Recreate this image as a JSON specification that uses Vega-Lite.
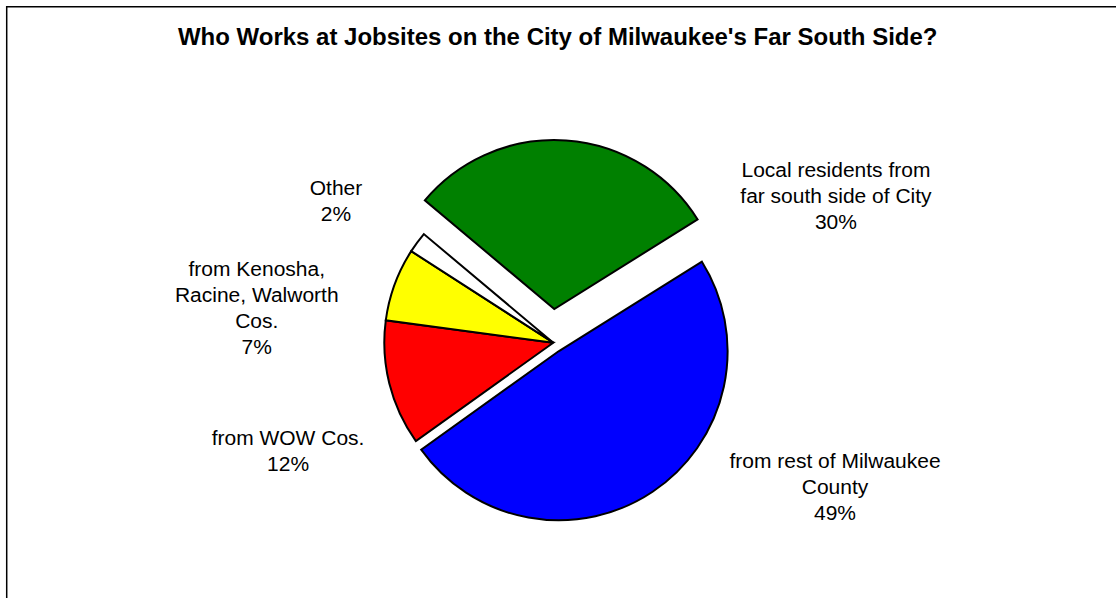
{
  "$schema": "https://vega.github.io/schema/vega-lite/v6.json",
  "autosize": {"type": "none"},
  "width": 1130,
  "height": 700,
  "padding": {"left": 6.7, "top": 6.7, "right": 0, "bottom": 0},
  "background": "#ffffff",
  "view": {"stroke": "#000000", "strokeWidth": 1.5, "fill": "#ffffff"},
  "config": {"view": {"stroke": "#000000", "strokeWidth": 1.5}, "style": {"cell": {"stroke": "#000000", "strokeWidth": 1.5}}, "font": "Liberation Sans"},
  "title": {
    "text": "Who Works at Jobsites on the City of Milwaukee's Far South Side?",
    "font": "Liberation Sans",
    "fontSize": 24,
    "fontWeight": "bold",
    "color": "#000000",
    "anchor": "middle",
    "baseline": "alphabetic",
    "offset": -62,
    "dx": -14
  },
  "data": {
    "values": [
      {"category": "Local residents from far south side of City", "label": "Local residents from\nfar south side of City\n30%", "value": 30, "order": 1},
      {"category": "from rest of Milwaukee County", "label": "from rest of Milwaukee\nCounty\n49%", "value": 49, "order": 2},
      {"category": "from WOW Cos.", "label": "from WOW Cos.\n12%", "value": 12, "order": 3},
      {"category": "from Kenosha, Racine, Walworth Cos.", "label": "from Kenosha,\nRacine, Walworth\nCos.\n7%", "value": 7, "order": 4},
      {"category": "Other", "label": "Other\n2%", "value": 2, "order": 5}
    ]
  },
  "transform": [
    {"stack": "value", "groupby": [], "sort": [{"field": "order", "order": "ascending"}], "as": ["v0", "v1"]}
  ],
  "layer": [
    {
      "transform": [{"filter": "datum.order === 1"}],
      "mark": {"type": "arc", "radius": 169, "stroke": "#000000", "strokeWidth": 2, "strokeJoin": "miter", "xOffset": -17.4, "yOffset": -47.7},
      "encoding": {
        "theta": {"field": "v0", "type": "quantitative", "stack": null, "scale": {"domain": [0, 100], "range": [-0.8727, 5.4105]}},
        "theta2": {"field": "v1"},
        "color": {"field": "category", "type": "nominal", "legend": null,
          "scale": {"domain": ["Local residents from far south side of City", "from rest of Milwaukee County", "from WOW Cos.", "from Kenosha, Racine, Walworth Cos.", "Other"],
                    "range": ["#008000", "#0000ff", "#ff0000", "#ffff00", "#ffffff"]}}
      }
    },
    {
      "transform": [{"filter": "datum.order === 2"}],
      "mark": {"type": "arc", "radius": 169, "stroke": "#000000", "strokeWidth": 2, "strokeJoin": "miter", "xOffset": -13.1, "yOffset": -5.4},
      "encoding": {
        "theta": {"field": "v0", "type": "quantitative", "stack": null, "scale": {"domain": [0, 100], "range": [-0.8727, 5.4105]}},
        "theta2": {"field": "v1"},
        "color": {"field": "category", "type": "nominal", "legend": null}
      }
    },
    {
      "transform": [{"filter": "datum.order >= 3"}],
      "mark": {"type": "arc", "radius": 169, "stroke": "#000000", "strokeWidth": 2, "strokeJoin": "miter", "xOffset": -18.4, "yOffset": -14},
      "encoding": {
        "theta": {"field": "v0", "type": "quantitative", "stack": null, "scale": {"domain": [0, 100], "range": [-0.8727, 5.4105]}},
        "theta2": {"field": "v1"},
        "color": {"field": "category", "type": "nominal", "legend": null}
      }
    },
    {
      "mark": {"type": "text", "radius": 180, "dx": 251.7, "dy": -6.1, "fontSize": 21, "font": "Liberation Sans", "lineBreak": "\n", "lineHeight": 26, "align": "center", "baseline": "middle", "color": "#000000"},
      "encoding": {
        "theta": {"field": "value", "type": "quantitative", "stack": true, "scale": {"domain": [0, 100], "range": [-0.8727, 5.4105]}},
        "order": {"field": "order"},
        "text": {"condition": {"test": "datum.order === 1", "field": "label"}, "value": ""}
      }
    },
    {
      "mark": {"type": "text", "radius": 180, "dx": 163.2, "dy": -44.3, "fontSize": 21, "font": "Liberation Sans", "lineBreak": "\n", "lineHeight": 26, "align": "center", "baseline": "middle", "color": "#000000"},
      "encoding": {
        "theta": {"field": "value", "type": "quantitative", "stack": true, "scale": {"domain": [0, 100], "range": [-0.8727, 5.4105]}},
        "order": {"field": "order"},
        "text": {"condition": {"test": "datum.order === 2", "field": "label"}, "value": ""}
      }
    },
    {
      "mark": {"type": "text", "radius": 180, "dx": -109, "dy": 38.8, "fontSize": 21, "font": "Liberation Sans", "lineBreak": "\n", "lineHeight": 26, "align": "center", "baseline": "middle", "color": "#000000"},
      "encoding": {
        "theta": {"field": "value", "type": "quantitative", "stack": true, "scale": {"domain": [0, 100], "range": [-0.8727, 5.4105]}},
        "order": {"field": "order"},
        "text": {"condition": {"test": "datum.order === 3", "field": "label"}, "value": ""}
      }
    },
    {
      "mark": {"type": "text", "radius": 180, "dx": -146, "dy": -24.8, "fontSize": 21, "font": "Liberation Sans", "lineBreak": "\n", "lineHeight": 26, "align": "center", "baseline": "middle", "color": "#000000"},
      "encoding": {
        "theta": {"field": "value", "type": "quantitative", "stack": true, "scale": {"domain": [0, 100], "range": [-0.8727, 5.4105]}},
        "order": {"field": "order"},
        "text": {"condition": {"test": "datum.order === 4", "field": "label"}, "value": ""}
      }
    },
    {
      "mark": {"type": "text", "radius": 180, "dx": -90.8, "dy": -60.4, "fontSize": 21, "font": "Liberation Sans", "lineBreak": "\n", "lineHeight": 26, "align": "center", "baseline": "middle", "color": "#000000"},
      "encoding": {
        "theta": {"field": "value", "type": "quantitative", "stack": true, "scale": {"domain": [0, 100], "range": [-0.8727, 5.4105]}},
        "order": {"field": "order"},
        "text": {"condition": {"test": "datum.order === 5", "field": "label"}, "value": ""}
      }
    }
  ]
}
